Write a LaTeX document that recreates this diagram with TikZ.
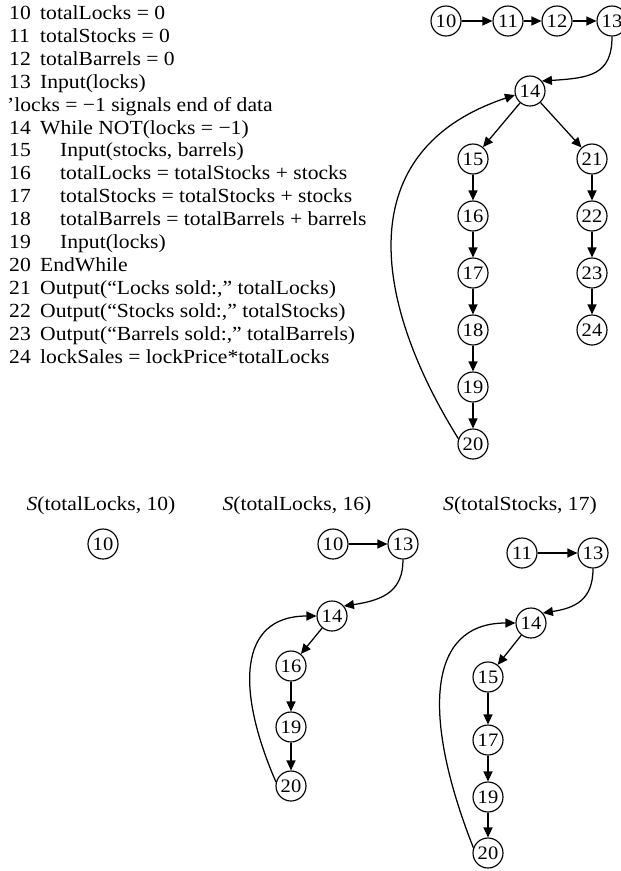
\documentclass[tikz,border=0pt]{standalone}
\usepackage{fontspec}
\setmainfont{Liberation Serif}[FakeStretch=1.08]
\usetikzlibrary{arrows.meta}

% one line of the listing: #1 row, #2 line number, #3 x of the statement, #4 statement
\newcommand\codeln[4]{%
  \node[code] (num#1) at (9,{-19.5-22.9*#1}) {#2};
  \node[code] (txt#1) at (#3,{-19.5-22.9*#1}) {#4};}

\begin{document}
\begin{tikzpicture}[x=1pt,y=1pt,
  vtx/.style={circle,draw,line width=1.15pt,minimum size=30pt,inner sep=0pt,
    font=\fontsize{19}{19}\selectfont},
  edge/.style={line width=1.25pt,-{Triangle[length=10pt,width=9pt]}},
  code/.style={anchor=base west,inner sep=0pt,font=\fontsize{20}{24}\selectfont},
  ttl/.style={anchor=base,inner sep=0pt,font=\fontsize{20}{24}\selectfont}]
\useasboundingbox (0,0) rectangle (621,-871);

% ---- program listing ----
\codeln{0}{10}{40}{totalLocks = 0}
\codeln{1}{11}{40}{totalStocks = 0}
\codeln{2}{12}{40}{totalBarrels = 0}
\codeln{3}{13}{40}{Input(locks)}
\node[code] (cmt) at (7,{-19.5-22.9*4}) {’locks = −1 signals end of data};
\codeln{5}{14}{40}{While NOT(locks = −1)}
\codeln{6}{15}{60}{Input(stocks, barrels)}
\codeln{7}{16}{60}{totalLocks = totalStocks + stocks}
\codeln{8}{17}{60}{totalStocks = totalStocks + stocks}
\codeln{9}{18}{60}{totalBarrels = totalBarrels + barrels}
\codeln{10}{19}{60}{Input(locks)}
\codeln{11}{20}{40}{EndWhile}
\codeln{12}{21}{40}{Output(“Locks sold:,” totalLocks)}
\codeln{13}{22}{40}{Output(“Stocks sold:,” totalStocks)}
\codeln{14}{23}{40}{Output(“Barrels sold:,” totalBarrels)}
\codeln{15}{24}{40}{lockSales = lockPrice*totalLocks}

% ---- program graph ----
\node[vtx] (n10) at (446,-21) {10};
\node[vtx] (n11) at (508,-21) {11};
\node[vtx] (n12) at (557,-21) {12};
\node[vtx] (n13) at (612,-21) {13};
\node[vtx] (n14) at (530,-91) {14};
\node[vtx] (n15) at (473,-159) {15};
\node[vtx] (n16) at (473,-216) {16};
\node[vtx] (n17) at (473,-273) {17};
\node[vtx] (n18) at (473,-330) {18};
\node[vtx] (n19) at (473,-387) {19};
\node[vtx] (n20) at (473,-444) {20};
\node[vtx] (n21) at (592,-159) {21};
\node[vtx] (n22) at (592,-216) {22};
\node[vtx] (n23) at (592,-273) {23};
\node[vtx] (n24) at (592,-330) {24};

\draw[edge] (n10) -- (n11);
\draw[edge] (n11) -- (n12);
\draw[edge] (n12) -- (n13);
\draw[edge] (n13.south) .. controls (612,-75) and (590,-78) .. (n14.40);
\draw[edge] (n14) -- (n15);
\draw[edge] (n14) -- (n21);
\draw[edge] (n15) -- (n16);
\draw[edge] (n16) -- (n17);
\draw[edge] (n17) -- (n18);
\draw[edge] (n18) -- (n19);
\draw[edge] (n19) -- (n20);
\draw[edge] (n21) -- (n22);
\draw[edge] (n22) -- (n23);
\draw[edge] (n23) -- (n24);
\draw[edge] (n20.160) .. controls (372,-300) and (350,-150) .. (n14.195);

% ---- slices ----
\node[ttl] (t1) at (101,-510) {\textit{S}(totalLocks, 10)};
\node[ttl] (t2) at (297,-510) {\textit{S}(totalLocks, 16)};
\node[ttl] (t3) at (520,-510) {\textit{S}(totalStocks, 17)};

% S(totalLocks, 10)
\node[vtx] (s10) at (103,-544) {10};

% S(totalLocks, 16)
\node[vtx] (a10) at (333,-544) {10};
\node[vtx] (a13) at (403,-544) {13};
\node[vtx] (a14) at (332,-616) {14};
\node[vtx] (a16) at (291,-666) {16};
\node[vtx] (a19) at (291,-727) {19};
\node[vtx] (a20) at (291,-786) {20};
\draw[edge] (a10) -- (a13);
\draw[edge] (a13.south) .. controls (403,-590) and (385,-600) .. (a14.40);
\draw[edge] (a14) -- (a16);
\draw[edge] (a16) -- (a19);
\draw[edge] (a19) -- (a20);
\draw[edge] (a20.165) .. controls (236,-690) and (238,-616) .. (a14.west);

% S(totalStocks, 17)
\node[vtx] (b11) at (522,-553) {11};
\node[vtx] (b13) at (593,-553) {13};
\node[vtx] (b14) at (531,-623) {14};
\node[vtx] (b15) at (488,-677) {15};
\node[vtx] (b17) at (488,-740) {17};
\node[vtx] (b19) at (488,-797) {19};
\node[vtx] (b20) at (488,-853) {20};
\draw[edge] (b11) -- (b13);
\draw[edge] (b13.south) .. controls (593,-600) and (575,-608) .. (b14.40);
\draw[edge] (b14) -- (b15);
\draw[edge] (b15) -- (b17);
\draw[edge] (b17) -- (b19);
\draw[edge] (b19) -- (b20);
\draw[edge] (b20.160) .. controls (423,-720) and (425,-623) .. (b14.west);
\end{tikzpicture}
\end{document}
